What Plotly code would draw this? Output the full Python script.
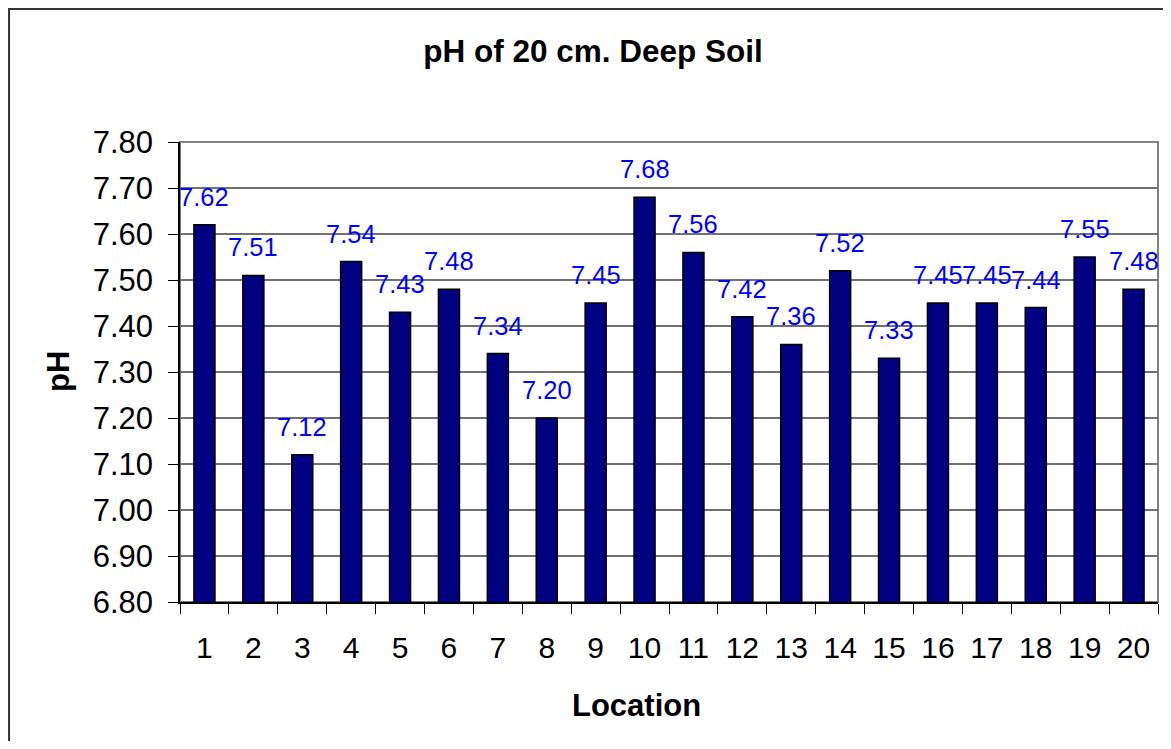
import plotly.graph_objects as go

locations = [str(i) for i in range(1, 21)]
ph_values = [7.62, 7.51, 7.12, 7.54, 7.43, 7.48, 7.34, 7.20, 7.45, 7.68,
             7.56, 7.42, 7.36, 7.52, 7.33, 7.45, 7.45, 7.44, 7.55, 7.48]
y_ticks = [6.8, 6.9, 7.0, 7.1, 7.2, 7.3, 7.4, 7.5, 7.6, 7.7, 7.8]

font = "Liberation Sans, Arial, sans-serif"

fig = go.Figure()
fig.add_trace(go.Bar(
    x=locations, y=ph_values,
    marker=dict(color="#000080", line=dict(color="black", width=1.5)),
    hoverinfo="x+y",
))

# data labels above bars (Excel style, with a gap); x is the category index
for i, v in enumerate(ph_values):
    fig.add_annotation(x=i, y=v, text=f"{v:.2f}", showarrow=False,
                       yanchor="middle", yshift=28,
                       font=dict(family=font, size=25.5, color="#0000FF"))

# axis titles
fig.add_annotation(x=0.4663, y=-0.224, xref="paper", yref="paper",
                   text="<b>Location</b>", showarrow=False,
                   xanchor="center", yanchor="middle",
                   font=dict(family=font, size=31, color="black"))
fig.add_annotation(x=-0.1247, y=0.5, xref="paper", yref="paper",
                   text="<b>pH</b>", showarrow=False, textangle=-90,
                   xanchor="center", yanchor="middle",
                   font=dict(family=font, size=31, color="black"))

# plot area frame and outer chart border
fig.add_shape(type="rect", xref="paper", yref="paper", x0=0, y0=0, x1=1, y1=1,
              line=dict(color="#808080", width=2), layer="below")
fig.add_shape(type="rect", xref="paper", yref="paper",
              x0=-0.1748, y0=-0.5, x1=1.2, y1=1.2891,
              line=dict(color="#333333", width=2), layer="below")

# page body has an 8px margin, so the figure is a bit smaller than the window
fig.update_layout(
    width=1155, height=733,
    margin=dict(l=172, r=5, t=134, b=139),
    paper_bgcolor="white", plot_bgcolor="white",
    bargap=0.57,
    showlegend=False,
    title=dict(text="<b>pH of 20 cm. Deep Soil</b>", x=0.5065, y=0.941,
               xanchor="center", yanchor="middle",
               font=dict(family=font, size=31.5, color="black")),
    font=dict(family=font, color="black"),
)
fig.update_xaxes(
    type="category", range=[-0.5, 19.5], automargin=False,
    tickson="boundaries", ticks="outside", ticklen=10,
    tickcolor="black", tickwidth=1, showline=True, linecolor="black", linewidth=1.5,
    showgrid=False, ticklabelstandoff=18,
    tickfont=dict(family=font, size=30, color="black"),
)
fig.update_yaxes(
    range=[6.8, 7.8], tickvals=y_ticks, tickformat=".2f", automargin=False,
    ticks="outside", ticklen=10, tickcolor="black", tickwidth=1,
    showline=True, linecolor="black", linewidth=1.5,
    showgrid=True, gridcolor="#707070", gridwidth=1.5, zeroline=False,
    ticklabelstandoff=9,
    tickfont=dict(family=font, size=31, color="black"),
)

fig.write_html("out.html")
